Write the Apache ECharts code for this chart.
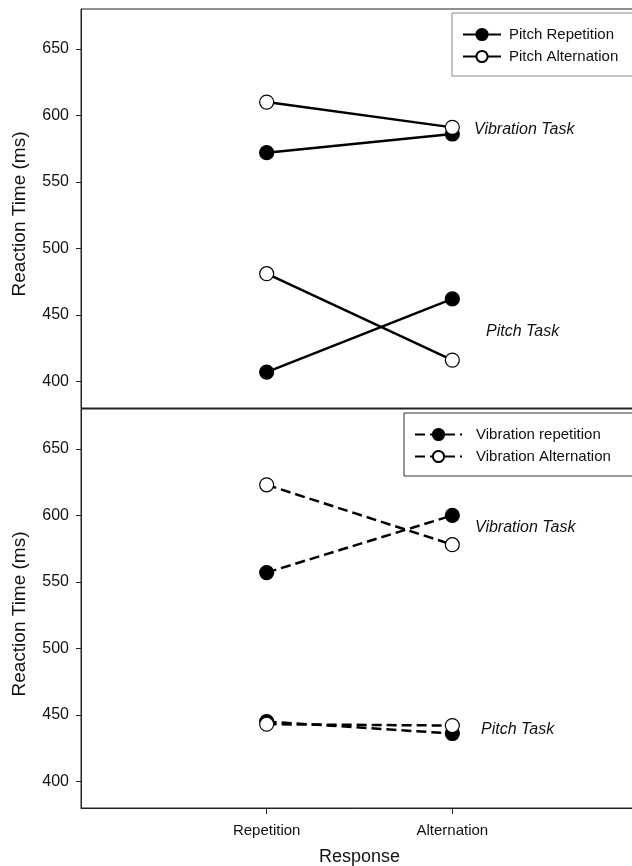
<!DOCTYPE html>
<html>
<head>
<meta charset="utf-8">
<script src="https://cdn.jsdelivr.net/npm/echarts@6/dist/echarts.min.js"></script>
<style>
  html, body { margin: 0; padding: 0; background: #fff; }
  #main { width: 632px; height: 866px; }
</style>
</head>
<body>
<div id="main"></div>
<script>
// 数据
var responses = ['Repetition', 'Alternation'];
var yTicks = [400, 450, 500, 550, 600, 650];

// top panel (pitch)
var pitchRepVibTask = [572, 586];
var pitchRepPitchTask = [407, 462];
var pitchAltVibTask = [610, 591];
var pitchAltPitchTask = [481, 416];

// bottom panel (vibration)
var vibRepVibTask = [557, 600];
var vibRepPitchTask = [445, 436];
var vibAltVibTask = [623, 578];
var vibAltPitchTask = [443, 442];

var FONT = 'Liberation Sans, Arial, sans-serif';

// two segments per series, broken by an empty point
function pts (a, b) {
  return [[1, a[0]], [2, a[1]], '-', [1, b[0]], [2, b[1]]];
}

function yAxisOpt (gridIndex) {
  return {
    gridIndex: gridIndex,
    type: 'value',
    min: 380,
    max: 680,
    splitLine: { show: false },
    axisLine: { show: true, lineStyle: { color: '#222', width: 1 } },
    axisTick: { show: true, inside: false, length: 5, lineStyle: { color: '#222' }, customValues: yTicks },
    axisLabel: { color: '#111', fontSize: 16, fontFamily: FONT, margin: 12, customValues: yTicks }
  };
}

function xAxisOpt (gridIndex, showLabels) {
  return {
    gridIndex: gridIndex,
    type: 'value',
    min: 0,
    max: 3,
    splitLine: { show: false },
    axisLine: { show: true, lineStyle: { color: '#222', width: 1 } },
    axisTick: { show: showLabels, length: 6, lineStyle: { color: '#222' }, customValues: [1, 2] },
    axisLabel: {
      show: showLabels, color: '#111', fontSize: 15, fontFamily: FONT, margin: 15,
      customValues: [1, 2],
      formatter: function (v) { return responses[Math.round(v) - 1] || ''; }
    },
    name: showLabels ? 'Response' : '',
    nameLocation: 'middle',
    nameGap: 40,
    nameTextStyle: { color: '#111', fontSize: 18, fontFamily: FONT }
  };
}

function lineSeries (name, idx, data, filled, dashed) {
  return {
    name: name,
    type: 'line',
    xAxisIndex: idx,
    yAxisIndex: idx,
    data: data,
    connectNulls: false,
    symbol: 'circle',
    symbolSize: 14,
    animation: false,
    lineStyle: { color: '#000', width: 2.5, type: dashed ? [10, 5] : 'solid' },
    itemStyle: { color: filled ? '#000' : '#fff', borderColor: '#000', borderWidth: 1.2 }
  };
}

var myChart = echarts.init(document.getElementById('main'));

var option = {
  backgroundColor: '#fff',
  animation: false,
  grid: [
    { left: 81, width: 557, top: 9, height: 399, outerBoundsMode: 'none', show: true, borderColor: '#222', borderWidth: 1 },
    { left: 81, width: 557, top: 409, height: 399, outerBoundsMode: 'none', show: true, borderColor: '#222', borderWidth: 1 }
  ],
  xAxis: [xAxisOpt(0, false), xAxisOpt(1, true)],
  yAxis: [yAxisOpt(0), yAxisOpt(1)],
  legend: [{
    data: ['Pitch Repetition', 'Pitch Alternation'],
    orient: 'vertical',
    left: 452,
    top: 13,
    padding: [14, 40, 12, 10],
    itemWidth: 38,
    itemHeight: 14,
    itemGap: 7,
    borderColor: '#888',
    borderWidth: 1,
    textStyle: { color: '#111', fontSize: 15, fontFamily: FONT, padding: [0, 0, 0, 3] }
  }, {
    data: ['Vibration repetition', 'Vibration Alternation'],
    orient: 'vertical',
    left: 404,
    top: 413,
    padding: [14, 40, 12, 10],
    itemWidth: 47,
    itemHeight: 14,
    itemGap: 7,
    borderColor: '#333',
    borderWidth: 1,
    textStyle: { color: '#111', fontSize: 15, fontFamily: FONT, padding: [0, 0, 0, 9] }
  }],
  graphic: [
    { type: 'text', x: 20, y: 214, rotation: Math.PI / 2,
      style: { text: 'Reaction Time (ms)', font: '19px ' + FONT, fill: '#111', textAlign: 'center', textVerticalAlign: 'middle' } },
    { type: 'text', x: 20, y: 614, rotation: Math.PI / 2,
      style: { text: 'Reaction Time (ms)', font: '19px ' + FONT, fill: '#111', textAlign: 'center', textVerticalAlign: 'middle' } },
    { type: 'text', x: 474, y: 130,
      style: { text: 'Vibration Task', font: 'italic 16px ' + FONT, fill: '#111', textVerticalAlign: 'middle' } },
    { type: 'text', x: 486, y: 332,
      style: { text: 'Pitch Task', font: 'italic 16px ' + FONT, fill: '#111', textVerticalAlign: 'middle' } },
    { type: 'text', x: 475, y: 528,
      style: { text: 'Vibration Task', font: 'italic 16px ' + FONT, fill: '#111', textVerticalAlign: 'middle' } },
    { type: 'text', x: 481, y: 730,
      style: { text: 'Pitch Task', font: 'italic 16px ' + FONT, fill: '#111', textVerticalAlign: 'middle' } }
  ],
  series: [
    lineSeries('Pitch Repetition', 0, pts(pitchRepVibTask, pitchRepPitchTask), true, false),
    lineSeries('Pitch Alternation', 0, pts(pitchAltVibTask, pitchAltPitchTask), false, false),
    lineSeries('Vibration repetition', 1, pts(vibRepVibTask, vibRepPitchTask), true, true),
    lineSeries('Vibration Alternation', 1, pts(vibAltVibTask, vibAltPitchTask), false, true)
  ]
};

myChart.setOption(option);
window.addEventListener('resize', function () {
  myChart.resize();
});
</script>
</body>
</html>
